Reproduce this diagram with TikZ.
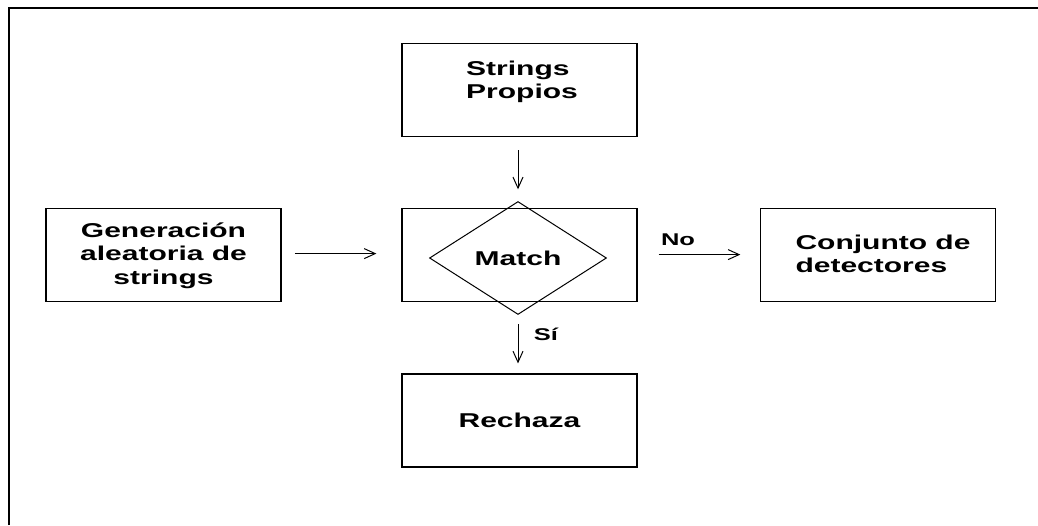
\documentclass[tikz,border=0pt]{standalone}
\usepackage{fontspec}
\setmainfont{Liberation Sans}[FakeStretch=1.5]
\usetikzlibrary{shapes.geometric,arrows.meta}
\begin{document}
\begin{tikzpicture}[x=1pt,y=-1pt,
  txt/.style={inner sep=0pt, font=\fontsize{20}{23.5}\selectfont\bfseries},
  box/.style={txt, draw, line width=1.2pt, minimum width=235pt, minimum height=93pt},
  decision/.style={txt, draw, diamond, line width=1pt, minimum width=177pt, minimum height=113pt},
  conn/.style={line width=1pt, -{Straight Barb[length=11pt,width=10pt,line width=1pt]}},
  lbl/.style={font=\fontsize{17}{20}\selectfont\bfseries, inner sep=0pt}]
\useasboundingbox (0,0) rectangle (1038,525);
\fill[white] (0,0) rectangle (1038,525);
% frame (top and left edges)
\draw[line width=2pt] (8.7,525) -- (8.7,7.7) -- (1038,7.7);
% nodes
\node[box] (sp) at (519.5,90.3) {};
\node[txt, align=left] (sptext) at (522,82) {Strings\\Propios};
\node[box] (mbox) at (519.5,255.3) {};
\node[decision] (match) at (518,258) {Match};
\node[box, align=center] (gen) at (163.5,255.3) {Generación\\aleatoria de\\strings};
\node[box] (conj) at (878,255.3) {};
\node[txt, align=left] (conjtext) at (883,253.6) {Conjunto de\\detectores};
\node[box] (rech) at (519.5,420.5) {Rechaza};
% connectors
\draw[conn, shorten <=12.6pt, shorten >=11.7pt] (sp.south -| match.north) -- (match.north);
\draw[conn, shorten <=13.3pt, shorten >=25pt] ([yshift=1.7pt]gen.east) -- ([yshift=1.7pt]mbox.west);
\draw[conn, shorten <=21pt, shorten >=19.6pt] ([yshift=0.7pt]mbox.east) -- ([yshift=0.7pt]conj.west);
\draw[conn, shorten <=9.3pt, shorten >=10pt] (match.south) -- (match.south |- rech.north);
% labels
\node[lbl] (no) at (678,240) {No};
\node[lbl] (si) at (546,334) {Sí};
\end{tikzpicture}
\end{document}
